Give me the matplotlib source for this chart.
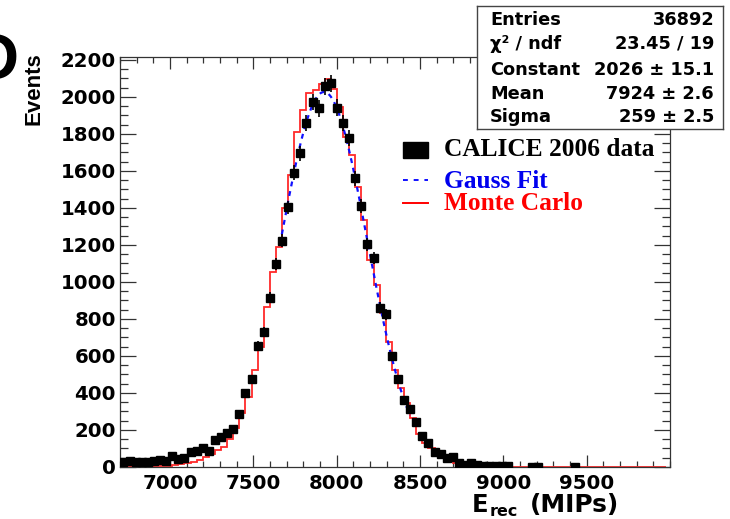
import numpy as np
import matplotlib
matplotlib.use('Agg')
import matplotlib.pyplot as plt
from matplotlib.patches import Rectangle
from matplotlib.lines import Line2D
from matplotlib.ticker import MultipleLocator

# histogram binning in MIPs (first bin centre and width)
bin_first = 6721.0
bin_width = 36.6

# CALICE 2006 data, entries per bin
data_counts = [28, 33, 25, 25, 27, 32, 38, 30, 62, 45,
               47, 83, 88, 101, 88, 146, 160, 185, 207, 285,
               401, 474, 653, 731, 914, 1096, 1222, 1402, 1589, 1694,
               1859, 1973, 1937, 2057, 2072, 1942, 1856, 1778, 1559, 1411,
               1204, 1130, 860, 824, 599, 473, 362, 311, 245, 170,
               128, 83, 72, 46, 52, 20, 11, 19, 11, 6,
               5, 5, 4, 3, 0, 0, 0, 2, 2, 0,
               0, 0, 0, 0, 1]

# Monte Carlo, one value per step starting half a bin left of the first data bin
mc_counts = [3, 3, 3, 3, 4, 4, 5, 5, 8, 12,
             15, 20, 29, 40, 52, 70, 90, 110, 150, 210,
             293, 380, 524, 650, 866, 1055, 1190, 1400, 1575, 1811,
             1928, 2018, 2035, 2070, 2098, 2040, 1946, 1784, 1685, 1514,
             1334, 1118, 983, 830, 677, 524, 425, 345, 263, 180,
             130, 101, 77, 56, 38, 22, 12, 7, 4, 2,
             1, 0, 0, 0, 0, 0, 0, 0, 0, 0,
             0, 0, 0, 0, 0, 0, 0, 0, 0, 0,
             0, 0, 0, 0, 0, 0, 0, 0, 0, 0]

# Gaussian fit parameters and fit range
entries = 36892
chi2, ndf = 23.45, 19
g_const, g_const_err = 2026, 15.1
g_mean, g_mean_err = 7924, 2.6
g_sigma, g_sigma_err = 259, 2.5
fit_lo, fit_hi = 7660, 8440

W, H = 730, 519


def fx(px):
    return px / W


def fy(py):
    return 1 - py / H


sans = 'DejaVu Sans'
serif = 'Liberation Serif'

fig = plt.figure(figsize=(W / 100, H / 100), dpi=100)
ax = fig.add_axes([fx(120), fy(467), fx(670) - fx(120), fy(57) - fy(467)])

centers = bin_first + bin_width * np.arange(len(data_counts))
counts = np.array(data_counts, dtype=float)
filled = counts > 0

# Monte Carlo step line
mc_edges = bin_first - bin_width + bin_width * np.arange(len(mc_counts) + 1)
ax.stairs(mc_counts, mc_edges, baseline=None, color='#ff2a2a', lw=1.3, zorder=2)

# Gauss fit
xf = np.linspace(fit_lo, fit_hi, 300)
ax.plot(xf, g_const * np.exp(-0.5 * ((xf - g_mean) / g_sigma) ** 2),
        color='#1010ff', lw=1.6, ls=(0, (2.2, 2.2)), zorder=3)

# data with statistical errors
ax.errorbar(centers[filled], counts[filled], yerr=np.sqrt(counts[filled]),
            fmt='s', color='black', ms=5.8, elinewidth=1.2, capsize=0, zorder=4)

ax.set_xlim(6700, 10000)
ax.set_ylim(0, 2215)
ax.xaxis.set_major_locator(MultipleLocator(500))
ax.xaxis.set_minor_locator(MultipleLocator(100))
ax.yaxis.set_major_locator(MultipleLocator(200))
ax.yaxis.set_minor_locator(MultipleLocator(50))
ax.set_xticks([7000, 7500, 8000, 8500, 9000, 9500])

ax.tick_params(which='both', direction='in', top=True, right=True,
               color='#333333', width=0.9)
ax.tick_params(axis='x', which='major', length=8.5, pad=5)
ax.tick_params(axis='x', which='minor', length=4.3)
ax.tick_params(axis='y', which='major', length=11.5, pad=3)
ax.tick_params(axis='y', which='minor', length=5.8)
for lab in ax.get_xticklabels() + ax.get_yticklabels():
    lab.set_fontfamily(sans)
    lab.set_fontweight('bold')
    lab.set_fontsize(14.2)
for sp in ax.spines.values():
    sp.set_color('#333333')
    sp.set_linewidth(0.9)

# axis titles
fig.text(fx(34), fy(89), 'Events', rotation=90, ha='center', va='center',
         family='Liberation Sans', weight='bold', fontsize=16)
fig.text(fx(472), fy(512), 'E', ha='left', va='baseline',
         family=sans, weight='bold', fontsize=17.5)
fig.text(fx(490), fy(516), 'rec', ha='left', va='baseline',
         family=sans, weight='bold', fontsize=11.5)
fig.text(fx(530), fy(512), '(MIPs)', ha='left', va='baseline',
         family=sans, weight='bold', fontsize=18)

# panel letter, mostly outside the figure
fig.text(fx(19), fy(62), 'D', ha='right', va='center',
         family='Liberation Sans', weight='bold', fontsize=46)

# legend
fig.patches.append(Rectangle((fx(403), fy(158)), fx(428) - fx(403), fy(142) - fy(158),
                             transform=fig.transFigure, color='black'))
fig.lines.append(Line2D([fx(403), fx(428)], [fy(180), fy(180)], transform=fig.transFigure,
                        color='#1010ff', lw=1.4, ls=(0, (2.5, 3))))
fig.lines.append(Line2D([fx(403), fx(428)], [fy(203), fy(203)], transform=fig.transFigure,
                        color='red', lw=1.4))
leg_items = [('CALICE 2006 data', 'black', 150), ('Gauss Fit', '#0000ee', 181),
             ('Monte Carlo', 'red', 204)]
for txt, col, ypx in leg_items:
    fig.text(fx(444), fy(ypx), txt, ha='left', va='center', color=col,
             family=serif, weight='bold', fontsize=18.3)

# fit statistics box
box = fig.add_axes([fx(477), fy(129), fx(723) - fx(477), fy(6) - fy(129)])
box.set_xticks([])
box.set_yticks([])
for sp in box.spines.values():
    sp.set_color('#444444')
    sp.set_linewidth(1.0)
rows = [('Entries', f'{entries}', 20),
        ('\u03c7\u00b2 / ndf', f'{chi2:.2f} / {ndf}', 44),
        ('Constant', f'{g_const} \u00b1 {g_const_err:.1f}', 70),
        ('Mean', f'{g_mean} \u00b1 {g_mean_err:.1f}', 94),
        ('Sigma', f'{g_sigma} \u00b1 {g_sigma_err:.1f}', 117)]
for name, val, ypx in rows:
    fig.text(fx(490), fy(ypx), name, ha='left', va='center',
             family=sans, weight='bold', fontsize=12.8)
    fig.text(fx(714), fy(ypx), val, ha='right', va='center',
             family=sans, weight='bold', fontsize=12.8)

fig.savefig('out.png', dpi=100)
